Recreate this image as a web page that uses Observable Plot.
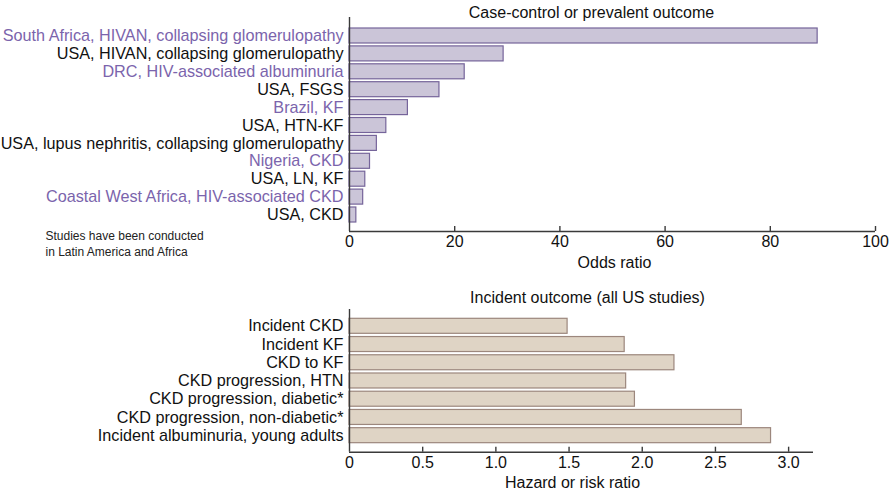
<!DOCTYPE html>
<html>
<head>
<meta charset="utf-8">
<script src="https://cdn.jsdelivr.net/npm/d3@7"></script>
<script src="https://cdn.jsdelivr.net/npm/@observablehq/plot@0.6"></script>
<style>
  html, body { margin: 0; padding: 0; background: #fff; }
  #chart { position: relative; width: 891px; height: 492px; overflow: hidden; }
  #chart svg { position: absolute; left: 0; }
</style>
</head>
<body>
<div id="chart"></div>
<script>
// ---- Data: top panel (case-control or prevalent outcome) ----
const topTitle = "Case-control or prevalent outcome";
const topAxisLabel = "Odds ratio";
const topLabels = [
  "South Africa, HIVAN, collapsing glomerulopathy",
  "USA, HIVAN, collapsing glomerulopathy",
  "DRC, HIV-associated albuminuria",
  "USA, FSGS",
  "Brazil, KF",
  "USA, HTN-KF",
  "USA, lupus nephritis, collapsing glomerulopathy",
  "Nigeria, CKD",
  "USA, LN, KF",
  "Coastal West Africa, HIV-associated CKD",
  "USA, CKD"
];
const topValues = [89, 29.3, 21.9, 17.1, 11.1, 7.0, 5.2, 3.9, 3.0, 2.6, 1.3];
const topLatinAfrica = [true, false, true, false, true, false, false, true, false, true, false];
const topTicks = [0, 20, 40, 60, 80, 100];
const topNote = "Studies have been conducted\nin Latin America and Africa";

// ---- Data: bottom panel (incident outcome) ----
const bottomTitle = "Incident outcome (all US studies)";
const bottomAxisLabel = "Hazard or risk ratio";
const bottomLabels = [
  "Incident CKD",
  "Incident KF",
  "CKD to KF",
  "CKD progression, HTN",
  "CKD progression, diabetic*",
  "CKD progression, non-diabetic*",
  "Incident albuminuria, young adults"
];
const bottomValues = [1.49, 1.88, 2.22, 1.89, 1.95, 2.68, 2.88];
const bottomTicks = [0, 0.5, 1, 1.5, 2, 2.5, 3];
const bottomTickLabels = ["0", "0.5", "1.0", "1.5", "2.0", "2.5", "3.0"];

// ---- Styling ----
const FONT = "'Liberation Sans', Arial, Helvetica, sans-serif";
const AXIS = "#3a3a3a";
const PURPLE = "#7b64ac";
const TEXT = "#111";

const topData = topLabels.map((name, i) => ({name, i, value: topValues[i], hl: topLatinAfrica[i]}));
const bottomData = bottomLabels.map((name, i) => ({name, i, value: bottomValues[i]}));

function panel({data, width, height, marginTop, marginBottom, marginLeft, marginRight,
                xDomain, yDomain, half, ticks, tickFormat, fill, stroke, tickLen,
                title, titleDx, titleDy, axisLabel, labelDx, labelDy, extra = []}) {
  const yBottom = yDomain[1];
  return Plot.plot({
    width, height, marginTop, marginBottom, marginLeft, marginRight,
    style: {fontFamily: FONT, fontSize: "16px", color: TEXT, background: "white", overflow: "visible"},
    x: {domain: xDomain, axis: null},
    y: {domain: yDomain, reverse: true, axis: null},
    color: {type: "identity"},
    marks: [
      Plot.rect(data, {x1: 0, x2: "value", y1: d => d.i - half, y2: d => d.i + half,
                       fill, stroke, strokeWidth: 1.2}),
      Plot.text(data, {x: 0, y: "i", text: "name", textAnchor: "end", dx: -6, fontSize: 16.2,
                       fill: d => d.hl ? PURPLE : TEXT}),
      Plot.ruleX([0], {stroke: AXIS, strokeWidth: 1.4}),
      Plot.ruleY([yBottom], {stroke: AXIS, strokeWidth: 1.4}),
      Plot.ruleX(ticks.filter(d => d !== 0), {x: d => d, y1: yBottom, y2: yBottom - tickLen, stroke: AXIS, strokeWidth: 1.4}),
      Plot.axisX(ticks, {tickSize: 0, tickPadding: 4, tickFormat, fontSize: 16, fill: TEXT, label: null}),
      Plot.text([title], {frameAnchor: "top", lineAnchor: "middle", dx: titleDx, dy: titleDy, fontSize: 16, fill: TEXT}),
      Plot.text([axisLabel], {frameAnchor: "bottom", lineAnchor: "middle", dx: labelDx, dy: labelDy, fontSize: 16, fill: TEXT}),
      ...extra
    ]
  });
}

// Top panel: frame x 349..875, y 17..231; bar pitch 17.9 px
const topPitch = 17.9;
const topSvg = panel({
  data: topData, width: 891, height: 280,
  marginTop: 17, marginBottom: 49, marginLeft: 349, marginRight: 16,
  xDomain: [0, 100],
  yDomain: [(17 - 35.5) / topPitch, (231 - 35.5) / topPitch],
  half: 7.5 / topPitch,
  ticks: topTicks, tickFormat: d => String(d),
  fill: "#cbc5d8", stroke: "#75649a", tickLen: 5 / topPitch,
  title: topTitle, titleDx: -21, titleDy: -4.5,
  axisLabel: topAxisLabel, labelDx: 2, labelDy: 31,
  extra: [
    Plot.text([topNote], {frameAnchor: "bottom-left", textAnchor: "start", lineAnchor: "top",
                          dx: -304, dy: -2, fontSize: 12, lineHeight: 1.28, fill: "#222"})
  ]
});
topSvg.style.top = "0px";

// Bottom panel: frame x 349..813, y 309..451.7 (page); bar pitch 18.23 px
const botPitch = 18.23;
const botSvg = panel({
  data: bottomData, width: 891, height: 212,
  marginTop: 29, marginBottom: 40.3, marginLeft: 349, marginRight: 78,
  xDomain: [0, 3.17],
  yDomain: [(29 - 45.8) / botPitch, (171.7 - 45.8) / botPitch],
  half: 7.5 / botPitch,
  ticks: bottomTicks, tickFormat: d => bottomTickLabels[bottomTicks.indexOf(d)],
  fill: "#dfd4c5", stroke: "#9c877d", tickLen: 5 / botPitch,
  title: bottomTitle, titleDx: 6, titleDy: -11.5,
  axisLabel: bottomAxisLabel, labelDx: -9, labelDy: 31
});
botSvg.style.top = "280px";

const chart = document.getElementById("chart");
chart.appendChild(topSvg);
chart.appendChild(botSvg);
</script>
</body>
</html>
